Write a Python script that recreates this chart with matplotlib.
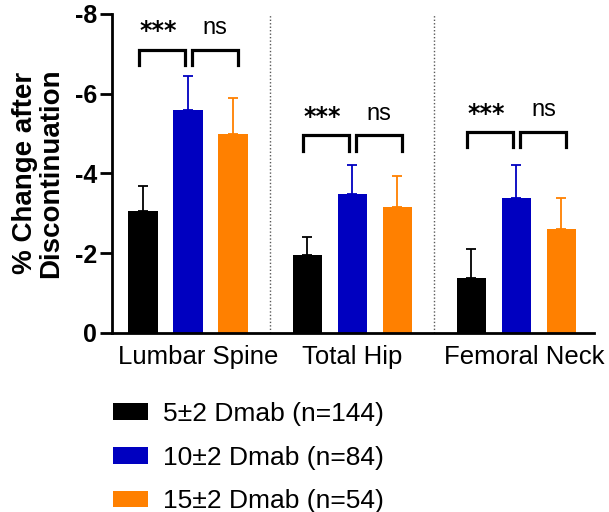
import numpy as np
import matplotlib.pyplot as plt
import matplotlib.transforms as mtransforms
from matplotlib.patches import Patch

plt.rcParams['font.family'] = ['Liberation Sans', 'DejaVu Sans']
plt.rcParams['axes.unicode_minus'] = False

# --- Data ---
sites = ["Lumbar Spine", "Total Hip", "Femoral Neck"]
groups = ["5±2 Dmab (n=144)", "10±2 Dmab (n=84)", "15±2 Dmab (n=54)"]
colors = ["#000000", "#0000C0", "#FF8000"]

mean_5 = [-3.05, -1.95, -1.38]
mean_10 = [-5.59, -3.49, -3.39]
mean_15 = [-4.99, -3.16, -2.61]
err_5 = [0.63, 0.46, 0.73]
err_10 = [0.84, 0.73, 0.82]
err_15 = [0.89, 0.77, 0.76]

sig_left = ["***", "***", "***"]     # 5 vs 10
sig_right = ["ns", "ns", "ns"]       # 10 vs 15
bracket_top = [-7.1, -4.95, -5.03]

means = [mean_5, mean_10, mean_15]
errs = [err_5, err_10, err_15]

# --- Figure ---
fig = plt.figure(figsize=(6.09, 5.12), dpi=100)
ax = fig.add_axes([0.184, 0.350, 0.791, 0.623])

centers = np.array([0, 3.65, 7.3])
offsets = [-1, 0, 1]
width = 0.65

for m, e, c, off in zip(means, errs, colors, offsets):
    x = centers + off
    ax.bar(x, m, width=width, color=c, zorder=2)
    ax.errorbar(x, m, yerr=[e, np.zeros(len(e))], fmt='none', ecolor=c,
                elinewidth=1.3, capsize=3.8, capthick=1.3, zorder=1)

# dotted separators between sites
for sx in (centers[:-1] + centers[1:]) / 2:
    ax.axvline(sx, color='0.35', lw=1, ls=(0, (1, 1.5)), zorder=0)

# significance brackets
leg = 0.38
for i, c0 in enumerate(centers):
    top = bracket_top[i]
    xl = [c0 - 1.09, c0 - 0.07]
    xr = [c0 + 0.09, c0 + 1.11]
    for xs in (xl, xr):
        ax.plot([xs[0], xs[0], xs[1], xs[1]], [top + leg, top, top, top + leg],
                color='black', lw=2.3, solid_joinstyle='miter', clip_on=False)
    ax.text(xl[0], top - 0.47, sig_left[i], ha='left', va='center',
            fontsize=17, fontweight='bold', family='DejaVu Sans')
    ax.text(np.mean(xr), top - 0.55, sig_right[i], ha='center', va='center',
            fontsize=17)

ax.set_ylim(0, -8)
ax.set_xlim(-1.69, 9.02)
ax.set_yticks([0, -2, -4, -6, -8])
ax.set_yticklabels(["0", "-2", "-4", "-6", "-8"], fontweight='bold', fontsize=18)
ax.set_xticks(centers)
ax.set_xticklabels(sites, fontsize=18.5)
ax.tick_params(axis='x', length=0, pad=9)
ax.tick_params(axis='y', length=9, width=2, pad=2)

# nudge the site labels slightly right, as in the original
for lab, dx in zip(ax.get_xticklabels(), [7, 0, 6]):
    lab.set_transform(lab.get_transform() +
                      mtransforms.ScaledTranslation(dx / 72, 0, fig.dpi_scale_trans))

for s in ['top', 'right']:
    ax.spines[s].set_visible(False)
for s in ['left', 'bottom']:
    ax.spines[s].set_linewidth(2)

ax.set_ylabel("% Change after\nDiscontinuation", fontsize=20, fontweight='bold',
              linespacing=1.0)
ax.yaxis.set_label_coords(-0.10, 0.5)

handles = [Patch(facecolor=c, edgecolor='none') for c in colors]
fig.legend(handles, groups, loc='upper left', bbox_to_anchor=(0.164, 0.241),
           frameon=False, fontsize=19, handlelength=1.33, handleheight=0.6,
           handletextpad=0.57, labelspacing=0.75, borderpad=0)

fig.savefig("out.png", dpi=100)
